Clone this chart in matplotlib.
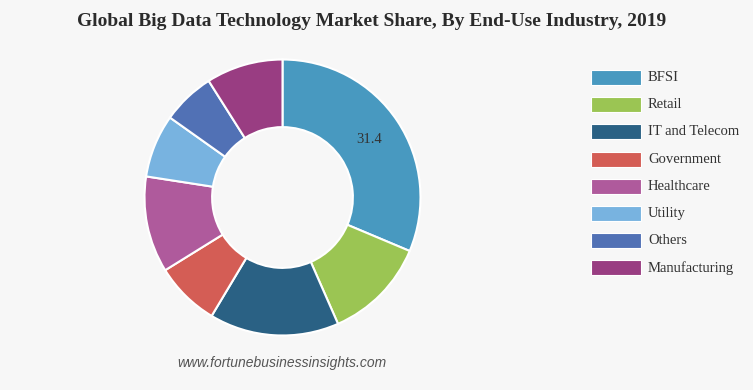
import numpy as np
import matplotlib.pyplot as plt
from matplotlib.patches import Rectangle

# --- Data ---
industries = ['BFSI', 'Retail', 'IT and Telecom', 'Government', 'Healthcare',
              'Utility', 'Others', 'Manufacturing']
shares = [31.4, 12.1, 15.2, 7.6, 11.3, 7.4, 6.2, 9.0]
colors = ['#4899c0', '#9bc553', '#2a6184', '#d45d55', '#af5a9c',
          '#78b3e0', '#5171b5', '#993d82']

bg = '#f7f7f7'
W, H = 753, 390

fig = plt.figure(figsize=(W / 100, H / 100), dpi=100, facecolor=bg)

# --- Donut ---
cx, cy, r = 282.5, H - 197.5, 138
ax = fig.add_axes([(cx - r) / W, (cy - r) / H, 2 * r / W, 2 * r / H])
ax.set_facecolor(bg)
ax.pie(shares, colors=colors, startangle=90, counterclock=False, radius=1,
       wedgeprops=dict(width=0.49, edgecolor='white', linewidth=1.5))
ax.set_xlim(-1, 1)
ax.set_ylim(-1, 1)
ax.axis('off')

# value label only on the biggest slice
mid = np.deg2rad(90 - shares[0] / sum(shares) * 360 / 2)
rm = 1 - 0.49 / 2
ax.text(rm * np.cos(mid), rm * np.sin(mid), f'{shares[0]}', ha='center', va='center',
        fontsize=10.5, family='Liberation Serif', color='#333333')

# --- Title ---
fig.text(0.493, 1 - 22 / H, 'Global Big Data Technology Market Share, By End-Use Industry, 2019',
         ha='center', va='center', fontsize=14, fontweight='bold',
         family='Liberation Serif', color='#2b2b2b')

# --- Legend ---
x0, y0, step = 591, 77.5, 27.2
for i, (name, c) in enumerate(zip(industries, colors)):
    yc = H - (y0 + i * step)
    fig.add_artist(Rectangle((x0 / W, (yc - 7.5) / H), 50 / W, 15 / H,
                             transform=fig.transFigure, facecolor=c,
                             edgecolor='white', linewidth=0.8))
    fig.text(648 / W, yc / H, name, ha='left', va='center', fontsize=10.5,
             family='Liberation Serif', color='#333333')

# --- Source ---
fig.text(282 / W, 1 - 363 / H, 'www.fortunebusinessinsights.com', ha='center',
         va='center', fontsize=10, style='italic', family='Liberation Sans',
         color='#555555')

fig.savefig('out.png', dpi=100, facecolor=bg)
